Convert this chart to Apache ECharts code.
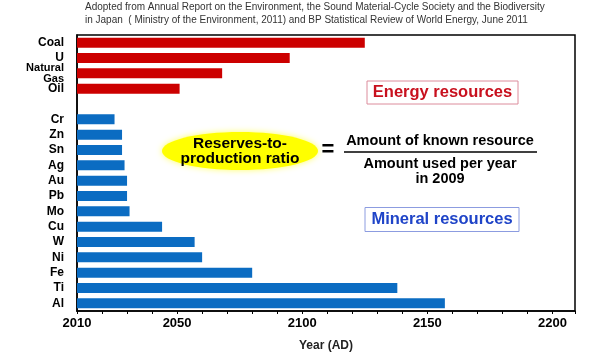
<!DOCTYPE html>
<html>
<head>
<meta charset="utf-8">
<script src="https://cdn.jsdelivr.net/npm/echarts@6/dist/echarts.min.js"></script>
<style>
  html, body { margin: 0; padding: 0; background: #fff; }
  #main { width: 607px; height: 353px; }
</style>
</head>
<body>
<div id="main"></div>
<script>
// resources, top to bottom ('' is the gap between the two groups)
const resources = ['Coal', 'U', 'Natural\nGas', 'Oil', '', 'Cr', 'Zn', 'Sn', 'Ag', 'Au', 'Pb', 'Mo', 'Cu', 'W', 'Ni', 'Fe', 'Ti', 'Al']
// year when reserves run out (2009 reserves / 2009 use)
const depletionYear = [2125, 2095, 2068, 2051, null, 2025, 2028, 2028, 2029, 2030, 2030, 2031, 2044, 2057, 2060, 2080, 2138, 2157]
const energyGroup = ['Coal', 'U', 'Natural\nGas', 'Oil']
const yearLabels = [2010, 2050, 2100, 2150, 2200]

const RED = '#cc0000'
const BLUE = '#0b6cc2'

const chart = echarts.init(document.getElementById('main'))

const barData = depletionYear.map((v, i) => {
  return {
    value: v,
    itemStyle: { color: energyGroup.indexOf(resources[i]) >= 0 ? RED : BLUE }
  }
})

const option = {
  animation: false,
  grid: {
    left: 77,
    right: 32,
    top: 35,
    bottom: 42,
    outerBoundsMode: 'none',
    show: true,
    borderColor: '#000',
    borderWidth: 1.5
  },
  xAxis: {
    type: 'value',
    min: 2010,
    max: 2209,
    interval: 10,
    name: 'Year (AD)',
    nameLocation: 'middle',
    nameGap: 29,
    nameTextStyle: { color: '#222', fontWeight: 'bold', fontSize: 12, fontFamily: 'Arial' },
    axisLine: { show: true, lineStyle: { color: '#000', width: 1.5 } },
    axisTick: { show: true, length: 3, lineStyle: { color: '#000' } },
    splitLine: { show: false },
    axisLabel: {
      color: '#000',
      fontWeight: 'bold',
      fontSize: 13,
      fontFamily: 'Arial',
      margin: 6,
      formatter: function (v) {
        return yearLabels.indexOf(v) >= 0 ? String(v) : ''
      }
    }
  },
  yAxis: {
    type: 'category',
    inverse: true,
    data: resources,
    axisLine: { show: true, lineStyle: { color: '#000', width: 1.5 } },
    axisTick: { show: false },
    axisLabel: {
      color: '#000',
      fontWeight: 'bold',
      fontSize: 12,
      fontFamily: 'Arial',
      margin: 13,
      interval: 0,
      formatter: function (v) {
        return v.indexOf('\n') >= 0 ? '{s|' + v.replace('\n', '}\n{s|') + '}' : v
      },
      rich: {
        s: { fontSize: 11, fontWeight: 'bold', fontFamily: 'Arial', color: '#000', lineHeight: 11 }
      }
    }
  },
  series: [
    {
      type: 'bar',
      barWidth: 10,
      data: barData
    }
  ],
  graphic: [
    {
      type: 'text',
      left: 85,
      top: 1,
      style: {
        text: 'Adopted from Annual Report on the Environment, the Sound Material-Cycle Society and the Biodiversity\nin Japan  ( Ministry of the Environment, 2011) and BP Statistical Review of World Energy, June 2011',
        fill: '#333',
        font: '10px "Liberation Sans Narrow", Arial',
        lineHeight: 13
      }
    },
    {
      type: 'rect',
      shape: { x: 367, y: 81, width: 151, height: 23 },
      style: { fill: '#fff', stroke: '#dc8c9c', lineWidth: 1 }
    },
    {
      type: 'text',
      x: 442.5,
      y: 92.5,
      style: {
        text: 'Energy resources',
        fill: '#c8101e',
        font: 'bold 16.5px Arial',
        align: 'center',
        verticalAlign: 'middle'
      }
    },
    {
      type: 'rect',
      shape: { x: 365, y: 207.5, width: 154, height: 24 },
      style: { fill: '#fff', stroke: '#8c9ce0', lineWidth: 1 }
    },
    {
      type: 'text',
      x: 442,
      y: 219.5,
      style: {
        text: 'Mineral resources',
        fill: '#1f44c8',
        font: 'bold 16.5px Arial',
        align: 'center',
        verticalAlign: 'middle'
      }
    },
    {
      type: 'ellipse',
      shape: { cx: 240, cy: 151, rx: 78, ry: 19 },
      style: { fill: '#ffff00', shadowBlur: 6, shadowColor: '#ffff66' }
    },
    {
      type: 'text',
      x: 240,
      y: 151.5,
      style: {
        text: 'Reserves-to-\nproduction ratio',
        fill: '#000',
        font: 'bold 15.5px Arial',
        lineHeight: 15,
        align: 'center',
        verticalAlign: 'middle'
      }
    },
    {
      type: 'text',
      x: 328,
      y: 150,
      style: {
        text: '=',
        fill: '#000',
        font: 'bold 22px Arial',
        align: 'center',
        verticalAlign: 'middle'
      }
    },
    {
      type: 'text',
      x: 440,
      y: 141,
      style: {
        text: 'Amount of known resource',
        fill: '#000',
        font: 'bold 14.5px Arial',
        align: 'center',
        verticalAlign: 'middle'
      }
    },
    {
      type: 'line',
      shape: { x1: 344, y1: 152, x2: 537, y2: 152 },
      style: { stroke: '#000', lineWidth: 1.5 }
    },
    {
      type: 'text',
      x: 440,
      y: 171,
      style: {
        text: 'Amount used per year\nin 2009',
        fill: '#000',
        font: 'bold 14.5px Arial',
        lineHeight: 15,
        align: 'center',
        verticalAlign: 'middle'
      }
    }
  ]
}

chart.setOption(option)
</script>
</body>
</html>
